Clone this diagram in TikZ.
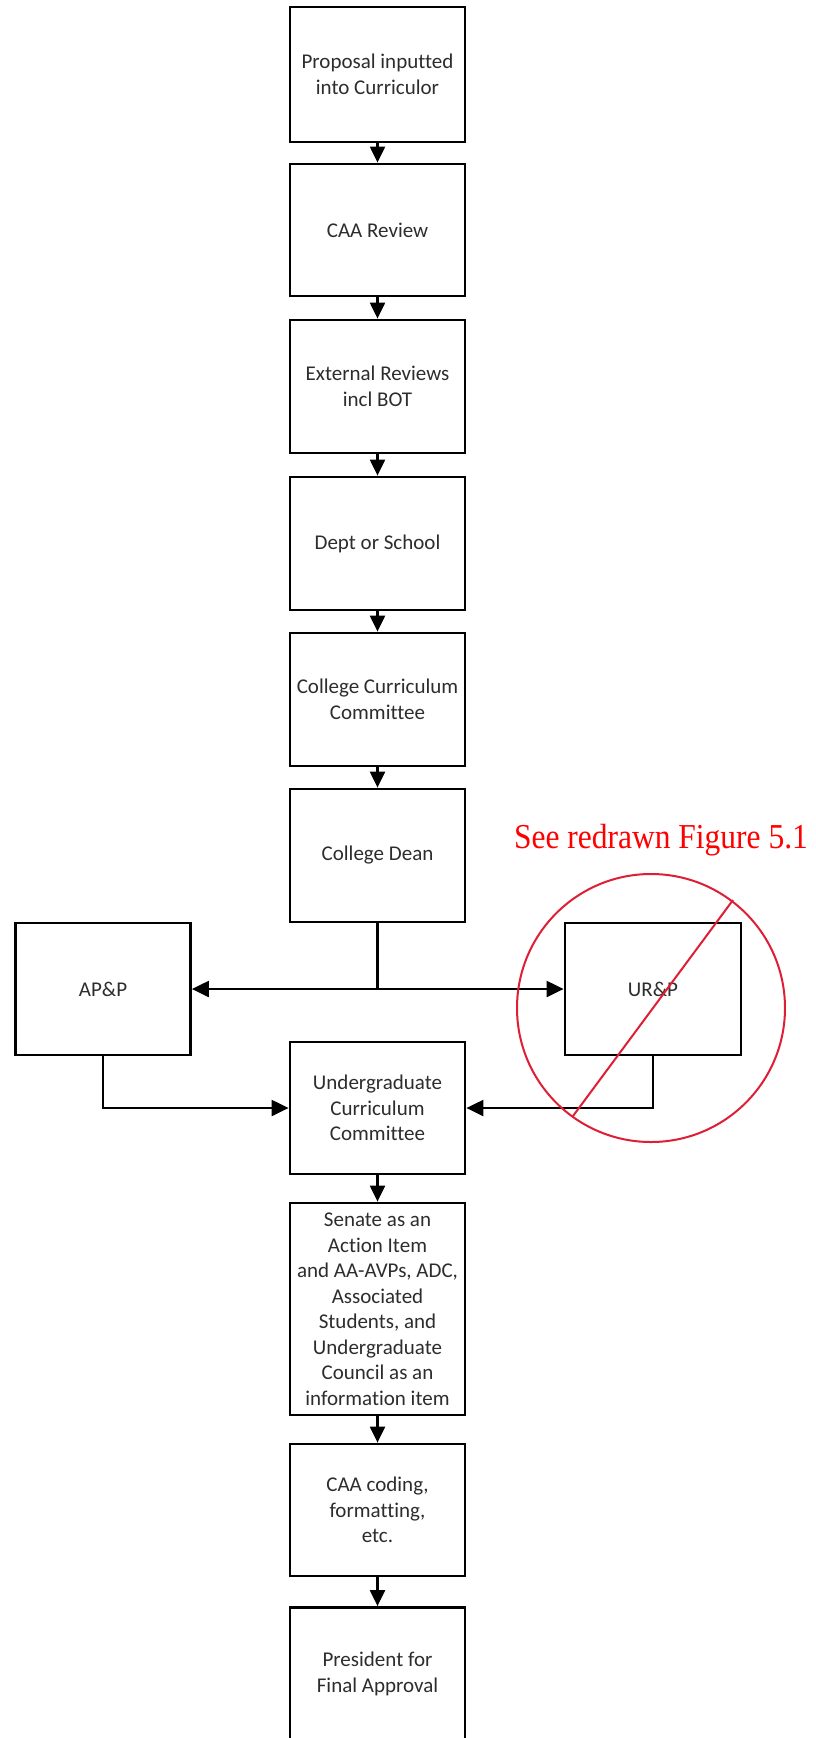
\documentclass[tikz,border=0pt]{standalone}
\usepackage{fontspec}
\setmainfont{Carlito}[Ligatures=NoCommon]
\newfontfamily\redfont[FakeStretch=0.9]{Liberation Serif}
\usetikzlibrary{arrows.meta}
\definecolor{txtgrey}{RGB}{45,45,45}
\definecolor{markred}{RGB}{222,30,52}
\begin{document}
\begin{tikzpicture}[x=1pt,y=-1pt,
  stepbox/.style={draw, line width=2.8pt, minimum width=175pt, minimum height=133pt,
    align=center, inner sep=0pt, text=txtgrey,
    font=\fontsize{21pt}{25.5pt}\selectfont},
  arr/.style={line width=2.2pt, -{Triangle[length=16pt,width=15pt]}},
  arrboth/.style={line width=2.2pt, {Triangle[length=17pt,width=16pt]}-{Triangle[length=17pt,width=16pt]}},
  arrside/.style={line width=2.2pt, -{Triangle[length=17pt,width=16pt]}},
  plain/.style={line width=2.2pt}]
\useasboundingbox[fill=white] (0,0) rectangle (816,1738);
\begin{scope}
\clip (0,0) rectangle (816,1738);
\node[stepbox, minimum height=135pt] (b1) at (377.5,74.5) {Proposal inputted\\into Curriculor};
\node[stepbox, minimum height=132pt] (b2) at (377.5,230) {CAA Review};
\node[stepbox] (b3) at (377.5,386.5) {External Reviews\\incl BOT};
\node[stepbox] (b4) at (377.5,543.5) {Dept or School};
\node[stepbox] (b5) at (377.5,699.5) {College Curriculum\\Committee};
\node[stepbox] (b6) at (377.5,855.5) {College Dean};
\node[stepbox, minimum height=132pt] (app) at (103,989) {AP\&P};
\node[stepbox, minimum width=176pt, minimum height=132pt] (urp) at (653,989) {UR\&P};
\node[stepbox, minimum height=132pt] (ucc) at (377.5,1108) {Undergraduate\\Curriculum\\Committee};
\node[stepbox, minimum height=212pt] (sen) at (377.5,1309) {Senate as an\\Action Item\\and AA-AVPs, ADC,\\Associated\\Students, and\\Undergraduate\\Council as an\\information item};
\node[stepbox, minimum height=132pt] (cod) at (377.5,1510) {CAA coding,\\formatting,\\etc.};
\node[stepbox] (pres) at (377.5,1674) {President for\\Final Approval};

\draw[arr] (b1) -- (b2);
\draw[arr] (b2) -- (b3);
\draw[arr] (b3) -- (b4);
\draw[arr] (b4) -- (b5);
\draw[arr] (b5) -- (b6);
\coordinate (split) at (377.5,989);
\draw[plain] (b6.south) -- (split);
\draw[arrboth] (app.east) -- (urp.west);
\draw[arrside] (app.south) |- (ucc.west);
\draw[arrside] (urp.south) |- (ucc.east);
\draw[arr] (ucc) -- (sen);
\draw[arr] (sen) -- (cod);
\draw[arr] (cod) -- (pres);

\node[anchor=base, inner sep=0pt, text=red, font=\redfont\fontsize{35pt}{40pt}\selectfont] (note) at (661,848) {See redrawn Figure 5.1};
\node[draw=markred, line width=2pt, circle, minimum size=268pt, inner sep=0pt] (ring) at (651,1008) {};
\coordinate (slashA) at (573,1116);
\coordinate (slashB) at (733,900);
\draw[markred, line width=2pt] (slashA) -- (slashB);
\end{scope}
\end{tikzpicture}
\end{document}
